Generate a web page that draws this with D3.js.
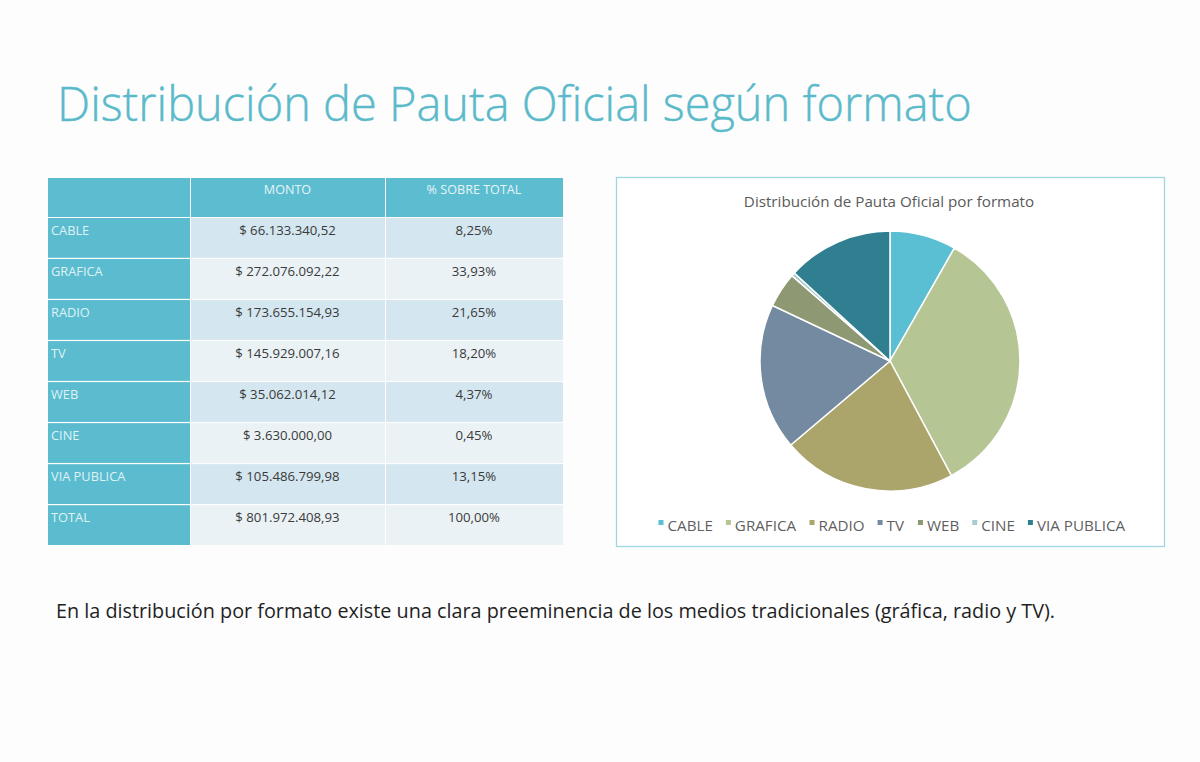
<!DOCTYPE html>
<html>
<head>
<meta charset="utf-8">
<script src="https://cdn.jsdelivr.net/npm/d3@7/dist/d3.min.js"></script>
<style>
  html, body { margin: 0; padding: 0; background: #fdfdfd; }
  svg { display: block; }
</style>
</head>
<body>
<svg id="chart" width="1200" height="762"></svg>
<script>
// ---------- DATA ----------
const categories = ["CABLE", "GRAFICA", "RADIO", "TV", "WEB", "CINE", "VIA PUBLICA"];
const montos = [66133340.52, 272076092.22, 173655154.93, 145929007.16, 35062014.12, 3630000.00, 105486799.98];
const percents = [8.25, 33.93, 21.65, 18.20, 4.37, 0.45, 13.15];
const totalLabel = "TOTAL";
const totalMonto = 801972408.93;
const totalPercent = 100.00;
const headers = ["", "MONTO", "% SOBRE TOTAL"];
const colors = ["#5bbfd3", "#b5c593", "#aba46b", "#738aa0", "#8e9873", "#a9cbd0", "#2f7f91"];

const titleText = "Distribución de Pauta Oficial según formato";
const chartTitle = "Distribución de Pauta Oficial por formato";
const footText = "En la distribución por formato existe una clara preeminencia de los medios tradicionales (gráfica, radio y TV).";

// ---------- SETUP ----------
const svg = d3.select("#chart");
const locale = d3.formatLocale({ decimal: ",", thousands: ".", grouping: [3], currency: ["$ ", ""] });
const fmtMoney = v => "$ " + locale.format(",.2f")(v);
const fmtPct = v => locale.format(",.2f")(v) + "%";

function fitText(sel, width) {
  const len = sel.node().getComputedTextLength();
  const fs = parseFloat(sel.attr("font-size"));
  sel.attr("font-size", fs * width / len);
}

// Title
const title = svg.append("text")
  .attr("x", 57).attr("y", 121)
  .attr("font-family", "Open Sans").attr("font-weight", 300)
  .attr("font-size", 48).attr("fill", "#5bbaca")
  .attr("stroke", "#5bbaca").attr("stroke-width", 0.4)
  .text(titleText);
fitText(title, 915);

// ---------- TABLE ----------
const rows = categories.map((c, i) => ({ label: c, monto: montos[i], pct: percents[i] }));
rows.push({ label: totalLabel, monto: totalMonto, pct: totalPercent });

const tY0 = 178, headH = 39, tY1 = 545;
const colEdges = [48, 190, 385, 563];
const y = d3.scaleBand().domain(d3.range(rows.length)).range([tY0 + headH + 1, tY1]).paddingInner(0.03);

const table = svg.append("g");
// header
headers.forEach((h, j) => {
  table.append("rect")
    .attr("x", colEdges[j] + (j ? 1 : 0)).attr("y", tY0)
    .attr("width", colEdges[j + 1] - colEdges[j] - (j ? 1 : 0)).attr("height", headH)
    .attr("fill", "#5bbdcf");
  if (h) table.append("text")
    .attr("x", (colEdges[j] + colEdges[j + 1]) / 2).attr("y", tY0 + 16)
    .attr("text-anchor", "middle")
    .attr("font-family", "Open Sans").attr("font-size", 12.6)
    .attr("fill", "#e6f5f8")
    .text(h);
});

const rowG = table.selectAll("g.row").data(rows).join("g").attr("class", "row")
  .attr("transform", (d, i) => `translate(0,${y(i)})`);

rowG.append("rect")
  .attr("x", colEdges[0]).attr("width", colEdges[1] - colEdges[0])
  .attr("height", y.bandwidth()).attr("fill", "#5bbccf");
[1, 2].forEach(j => {
  rowG.append("rect")
    .attr("x", colEdges[j] + 1).attr("width", colEdges[j + 1] - colEdges[j] - 1)
    .attr("height", y.bandwidth())
    .attr("fill", (d, i) => i % 2 === 0 ? "#d4e6ef" : "#eaf2f6");
});
rowG.append("text")
  .attr("x", 51).attr("y", 17)
  .attr("font-family", "Open Sans").attr("font-size", 12.8)
  .attr("fill", "#dff2f6")
  .text(d => d.label);
rowG.append("text")
  .attr("x", (colEdges[1] + colEdges[2]) / 2).attr("y", 17)
  .attr("text-anchor", "middle")
  .attr("font-family", "Open Sans").attr("font-size", 13.2)
  .attr("fill", "#3a3a3a")
  .text(d => fmtMoney(d.monto));
rowG.append("text")
  .attr("x", (colEdges[2] + colEdges[3]) / 2).attr("y", 17)
  .attr("text-anchor", "middle")
  .attr("font-family", "Open Sans").attr("font-size", 13.2)
  .attr("fill", "#3a3a3a")
  .text(d => fmtPct(d.pct));

// ---------- PIE CHART ----------
svg.append("rect")
  .attr("x", 616.5).attr("y", 177.5).attr("width", 548).attr("height", 369)
  .attr("fill", "#ffffff").attr("stroke", "#9fd6df").attr("stroke-width", 1.3);

svg.append("text")
  .attr("x", 889).attr("y", 207).attr("text-anchor", "middle")
  .attr("font-family", "Open Sans").attr("font-size", 15.2).attr("fill", "#5a5a5a")
  .text(chartTitle);

const pieData = d3.pie().sort(null).value(d => d)(montos);
const arc = d3.arc().innerRadius(0).outerRadius(130);
const color = d3.scaleOrdinal().domain(categories).range(colors);

svg.append("g").attr("transform", "translate(890,361)")
  .selectAll("path").data(pieData).join("path")
  .attr("d", arc)
  .attr("fill", (d, i) => color(categories[i]))
  .attr("stroke", "#ffffff").attr("stroke-width", 1.5);

// Legend
const legend = svg.append("g");
const items = legend.selectAll("g").data(categories).join("g");
items.append("rect").attr("width", 5).attr("height", 5).attr("y", -11)
  .attr("fill", d => color(d));
items.append("text").attr("x", 9).attr("y", 0)
  .attr("font-family", "Open Sans").attr("font-size", 15.2).attr("fill", "#5f5f5f")
  .text(d => d);
let xPos = 0;
const gap = 13;
items.each(function () {
  const w = this.getBBox().width;
  d3.select(this).attr("transform", `translate(${xPos},0)`);
  xPos += w + gap;
});
const totalW = xPos - gap;
legend.attr("transform", `translate(${892 - totalW / 2},531)`);

// ---------- FOOT TEXT ----------
const foot = svg.append("text")
  .attr("x", 56).attr("y", 618)
  .attr("font-family", "Open Sans").attr("font-size", 18).attr("fill", "#1f1f1f")
  .text(footText);
fitText(foot, 1000);
</script>
</body>
</html>
